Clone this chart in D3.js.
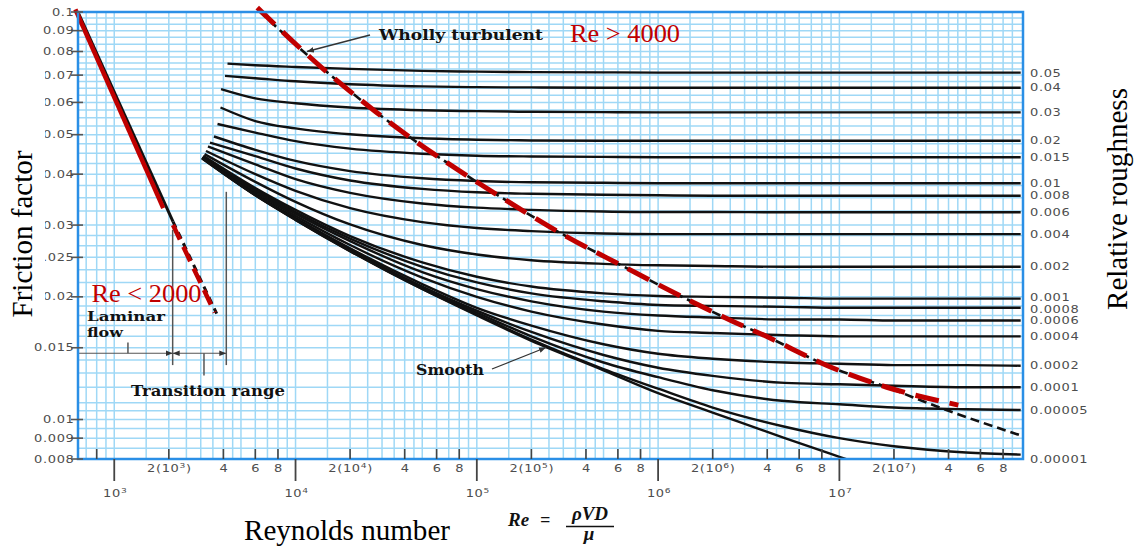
<!DOCTYPE html>
<html><head><meta charset="utf-8">
<script src="https://cdn.jsdelivr.net/npm/d3@7"></script>
<style>
html,body{margin:0;padding:0;background:#fff;}
svg{display:block;}
</style></head><body>
<svg id="chart" width="1135" height="550"></svg>
<script>
// ---------------- data ----------------
const reDomain = [631, 1.03e8];
const fDomain = [0.008, 0.1];
const gridDecades = [100, 1e3, 1e4, 1e5, 1e6, 1e7];
const gridMultipliers = [1, 1.5, 2, 2.5, 3, 3.5, 4, 4.5, 5, 6, 7, 8, 9];
const fGrid = [0.0085,0.009,0.0095,0.01,0.0105,0.011,0.012,0.013,0.014,0.015,0.016,0.017,0.018,0.019,0.02,
  0.0217,0.0233,0.025,0.0267,0.0283,0.03,0.0325,0.035,0.0375,0.04,0.0425,0.045,0.0475,0.05,0.0525,0.055,
  0.0575,0.06,0.0625,0.065,0.0675,0.07,0.0725,0.075,0.0775,0.08,0.0833,0.0867,0.09,0.0933,0.0967];
const fTicks = [0.1,0.09,0.08,0.07,0.06,0.05,0.04,0.03,0.025,0.02,0.015,0.01,0.009,0.008];
const fTickLabels = ["0.1","0.09","0.08","0.07","0.06","0.05","0.04","0.03","0.025","0.02","0.015","0.01","0.009","0.008"];
const reMajorTicks = [1e3, 1e4, 1e5, 1e6, 1e7];
const reMajorExp = ["3","4","5","6","7"];
const reMinorTicks = [800, 2e3,4e3,6e3,8e3, 2e4,4e4,6e4,8e4, 2e5,4e5,6e5,8e5, 2e6,4e6,6e6,8e6, 2e7,4e7,6e7,8e7];
const reMinorLabels = ["", "2|3","4","6","8", "2|4","4","6","8", "2|5","4","6","8", "2|6","4","6","8", "2|7","4","6","8"];

const roughness = ["0.05","0.04","0.03","0.02","0.015","0.01","0.008","0.006","0.004","0.002","0.001","0.0008","0.0006","0.0004","0.0002","0.0001","0.00005","0.00001"];
const roughLabelF = [0.0707,0.0652,0.0567,0.0483,0.0440,0.0380,0.0354,0.03225,0.0285,0.0237,0.01995,0.01865,0.0175,0.0160,0.01355,0.0120,0.01055,0.0080];
const curveStartRe = [4214,4083,3882,3855,3711,3548,3373,3289,3206,3148,3100,3090,3080,3070,3060,3055,3050,3050];
const curveStartF  = [0.0747,0.0697,0.0647,0.0583,0.0531,0.0495,0.0478,0.0468,0.0456,0.0448,0.0444,0.0442,0.0441,0.0440,0.0439,0.0439,0.0438,0.0438];
const reGrid = [6e3,1e4,2e4,5e4,1e5,2e5,5e5,1e6,2e6,5e6,1e7,2e7,5e7,1e8];
const curveF = [
  [0.0740,0.0733,0.0725,0.0717,0.0714,0.0712,0.0711,0.0710,0.0710,0.0710,0.0710,0.0710,0.0710,0.0710],
  [0.0688,0.0676,0.0665,0.0657,0.0654,0.0653,0.0652,0.0652,0.0652,0.0652,0.0652,0.0652,0.0652,0.0652],
  [0.0614,0.0597,0.0583,0.0574,0.0571,0.0569,0.0568,0.0567,0.0567,0.0567,0.0567,0.0567,0.0567,0.0567],
  [0.0540,0.0518,0.0501,0.0490,0.0486,0.0484,0.0483,0.0483,0.0483,0.0483,0.0483,0.0483,0.0483,0.0483],
  [0.0506,0.0482,0.0462,0.0449,0.0444,0.0442,0.0441,0.0440,0.0440,0.0440,0.0440,0.0440,0.0440,0.0440],
  [0.0459,0.0431,0.0407,0.0391,0.0385,0.0382,0.0381,0.0380,0.0380,0.0380,0.0380,0.0380,0.0380,0.0380],
  [0.0443,0.0413,0.0386,0.0368,0.0361,0.0358,0.0356,0.0355,0.0354,0.0354,0.0354,0.0354,0.0354,0.0354],
  [0.0423,0.0389,0.0360,0.0339,0.0331,0.0327,0.0324,0.0323,0.0323,0.03225,0.03225,0.03225,0.03225,0.03225],
  [0.0400,0.0364,0.0330,0.0305,0.0295,0.0290,0.0286,0.0285,0.0285,0.0285,0.0285,0.0285,0.0285,0.0285],
  [0.0383,0.0342,0.0301,0.0268,0.0254,0.0246,0.0241,0.0239,0.0238,0.0237,0.0237,0.0237,0.0237,0.0237],
  [0.0370,0.0327,0.0282,0.0243,0.0224,0.0212,0.0204,0.0201,0.0200,0.0199,0.0198,0.0198,0.0198,0.0198],
  [0.0367,0.0323,0.0278,0.0237,0.0217,0.0204,0.0195,0.0191,0.0190,0.0189,0.0188,0.0188,0.0188,0.0188],
  [0.0364,0.0320,0.0274,0.0230,0.0209,0.0195,0.0184,0.0180,0.0178,0.0176,0.0176,0.0175,0.0175,0.0175],
  [0.0361,0.0316,0.0268,0.0223,0.0200,0.0184,0.0171,0.0165,0.0163,0.0161,0.0160,0.0160,0.0160,0.0160],
  [0.0357,0.0312,0.0263,0.0215,0.0188,0.0170,0.0153,0.0145,0.0141,0.0138,0.0137,0.0136,0.0136,0.01355],
  [0.0356,0.0311,0.0261,0.0212,0.0185,0.0164,0.0144,0.0134,0.0128,0.0123,0.0122,0.0121,0.0120,0.0120],
  [0.0356,0.0310,0.0260,0.0211,0.0183,0.0160,0.0138,0.0127,0.0118,0.0111,0.0109,0.0107,0.0106,0.01055],
  [0.0355,0.0309,0.0259,0.0209,0.0181,0.0157,0.0133,0.0119,0.0107,0.0096,0.0090,0.0086,0.0083,0.0082]
];
const smoothRe = [3050,6e3,1e4,2e4,5e4,1e5,2e5,5e5,1e6,2e6,5e6,1e7,2e7];
const smoothF  = [0.0437,0.0355,0.0309,0.0259,0.0209,0.0180,0.0156,0.0132,0.0116,0.0104,0.0090,0.0081,0.0073];

const laminarRe = [631, 2109];
const laminarF  = [0.1, 0.0306];
const laminarDashRe = [2109, 3673];
const laminarDashF  = [0.0306, 0.0182];
const redLamRe = [622, 1900];
const redLamF  = [0.1015, 0.0330];
const redLamDashRe = [2150, 3650];
const redLamDashF  = [0.0300, 0.0183];

const turbRe = [6300,15010,28000,45500,102600,185600,296200,649600,1.4214e6,2.52e6,3.953e6,8.59e6,1.826e7,3.895e7,1.03e8];
const turbF  = [0.1005,0.0710,0.0567,0.0483,0.0380,0.03225,0.0285,0.0237,0.0198,0.0175,0.0160,0.01355,0.0120,0.01055,0.0091];
const redTurbRe = [6150,15010,28000,45500,102600,185600,296200,649600,1.4214e6,2.52e6,3.953e6,8.59e6,1.826e7,4.53e7];
const redTurbF  = [0.1025,0.0710,0.0567,0.0483,0.0380,0.03225,0.0285,0.0237,0.0198,0.0175,0.0160,0.01355,0.0120,0.01085];

// transition range annotation (Re, f)
const transRe = [2100, 4150];
const transTop = [0.0292, 0.0362];
const transBottomF = 0.0136;
const arrowF = 0.01454;
const smallTickRe = [1190, 3126];
const smallTickF = [[0.01546, 0.01454],[0.01454, 0.01282]];

// ---------------- drawing ----------------
const plot = {l:78, r:1023, t:12, b:459};
const x = d3.scaleLog().domain(reDomain).range([plot.l, plot.r]);
const y = d3.scaleLog().domain(fDomain).range([plot.b, plot.t]);
const svg = d3.select("#chart");
const GRID = "#9fd8f6", FRAME = "#2a8fe6", RED = "#c00000", TXT = "#4d4d4d";

const defs = svg.append("defs");
defs.append("clipPath").attr("id","clip").append("rect")
  .attr("x",plot.l).attr("y",plot.t).attr("width",plot.r-plot.l).attr("height",plot.b-plot.t);
defs.append("marker").attr("id","arr").attr("viewBox","0 0 10 10").attr("refX",10).attr("refY",5)
  .attr("markerWidth",7).attr("markerHeight",7).attr("markerUnits","userSpaceOnUse")
  .attr("orient","auto-start-reverse")
  .append("path").attr("d","M0,1 L10,5 L0,9 z").attr("fill","#333");

// grid
const vgrid = [];
gridDecades.forEach(d => gridMultipliers.forEach(m => { const v = d*m; if (v > reDomain[0] && v < reDomain[1]) vgrid.push(v); }));
const g = svg.append("g");
g.selectAll(".vg").data(vgrid).join("line").attr("class","vg")
  .attr("x1",d=>x(d)).attr("x2",d=>x(d)).attr("y1",plot.t).attr("y2",plot.b)
  .attr("stroke",GRID).attr("stroke-width",1.5);
g.selectAll(".hg").data(fGrid).join("line").attr("class","hg")
  .attr("x1",plot.l).attr("x2",plot.r).attr("y1",d=>y(d)).attr("y2",d=>y(d))
  .attr("stroke",GRID).attr("stroke-width",1.5);

// curves
const line = d3.line().x(d=>x(d[0])).y(d=>y(d[1])).curve(d3.curveMonotoneX);
const cg = svg.append("g").attr("clip-path","url(#clip)");
curveF.forEach((arr,k) => {
  const pts = [[curveStartRe[k], curveStartF[k]], ...reGrid.map((r,i)=>[r, arr[i]])];
  cg.append("path").attr("d", line(pts)).attr("fill","none").attr("stroke","#111").attr("stroke-width",2.4);
});
cg.append("path").attr("d", line(smoothRe.map((r,i)=>[r, smoothF[i]])))
  .attr("fill","none").attr("stroke","#111").attr("stroke-width",2.4);

// laminar
const lin = d3.line().x(d=>x(d[0])).y(d=>y(d[1]));
svg.append("path").attr("d", lin(laminarRe.map((r,i)=>[r,laminarF[i]])))
  .attr("stroke","#111").attr("stroke-width",3).attr("fill","none");
svg.append("path").attr("d", lin(laminarDashRe.map((r,i)=>[r,laminarDashF[i]])))
  .attr("stroke","#111").attr("stroke-width",3).attr("fill","none").attr("stroke-dasharray","7,5");

// wholly turbulent dashed
const tl = d3.line().x(d=>x(d[0])).y(d=>y(d[1])).curve(d3.curveMonotoneX);
svg.append("path").attr("d", tl(turbRe.map((r,i)=>[r,turbF[i]])))
  .attr("stroke","#111").attr("stroke-width",2.6).attr("fill","none").attr("stroke-dasharray","9,5");

// red overlays
svg.append("path").attr("d", tl(redTurbRe.map((r,i)=>[r,redTurbF[i]])))
  .attr("stroke",RED).attr("stroke-width",5).attr("fill","none").attr("stroke-dasharray","24,11");
svg.append("path").attr("d", lin(redLamRe.map((r,i)=>[r,redLamF[i]]))).attr("transform","translate(-1.5,0)")
  .attr("stroke",RED).attr("stroke-width",4.5).attr("fill","none");
svg.append("path").attr("d", lin(redLamDashRe.map((r,i)=>[r,redLamDashF[i]]))).attr("transform","translate(-1.5,0)")
  .attr("stroke",RED).attr("stroke-width",4.5).attr("fill","none").attr("stroke-dasharray","16,8");

// transition annotations
const an = svg.append("g").attr("stroke","#555").attr("stroke-width",1.5);
transRe.forEach((r,i)=>{
  an.append("line").attr("x1",x(r)).attr("x2",x(r)).attr("y1",y(transTop[i])).attr("y2",y(transBottomF));
});
smallTickRe.forEach((r,i)=>{
  an.append("line").attr("x1",x(r)).attr("x2",x(r)).attr("y1",y(smallTickF[i][0])).attr("y2",y(smallTickF[i][1]));
});
an.append("line").attr("x1",plot.l).attr("x2",x(transRe[0])).attr("y1",y(arrowF)).attr("y2",y(arrowF))
  .attr("stroke-width",1.2).attr("marker-end","url(#arr)");
an.append("line").attr("x1",x(transRe[0])).attr("x2",x(transRe[1])).attr("y1",y(arrowF)).attr("y2",y(arrowF))
  .attr("stroke-width",1.2).attr("marker-start","url(#arr)").attr("marker-end","url(#arr)");

// pointer arrows
svg.append("line").attr("x1",370).attr("y1",35).attr("x2",307).attr("y2",51.5)
  .attr("stroke","#333").attr("stroke-width",1.3).attr("marker-end","url(#arr)");
svg.append("line").attr("x1",492).attr("y1",369).attr("x2",546).attr("y2",347.5)
  .attr("stroke","#333").attr("stroke-width",1.3).attr("marker-end","url(#arr)");

// frame
svg.append("rect").attr("x",plot.l).attr("y",plot.t).attr("width",plot.r-plot.l).attr("height",plot.b-plot.t)
  .attr("fill","none").attr("stroke",FRAME).attr("stroke-width",2.5);

// wide tick-label helper (horizontally stretched sans, like the scan)
function wideText(parent, xx, yy, anchor){
  return parent.append("g").attr("transform",`translate(${xx},${yy}) scale(1.3,1)`)
    .append("text").attr("text-anchor",anchor).attr("font-family","DejaVu Sans, sans-serif")
    .attr("font-size","10px").attr("letter-spacing","0.5px").attr("fill",TXT);
}

// y ticks & labels
svg.append("g").selectAll("line").data(fTicks).join("line")
  .attr("x1",71).attr("x2",83).attr("y1",d=>y(d)).attr("y2",d=>y(d)).attr("stroke","#555").attr("stroke-width",1.6);
const yl = svg.append("g");
fTicks.forEach((f,i)=> wideText(yl, 74.5, y(f)+3.6, "end").text(fTickLabels[i]));

// x ticks
svg.append("g").selectAll("line").data(reMinorTicks).join("line")
  .attr("x1",d=>x(d)).attr("x2",d=>x(d)).attr("y1",plot.b-10).attr("y2",plot.b).attr("stroke","#444").attr("stroke-width",1.6);
svg.append("g").selectAll("line").data(reMajorTicks).join("line")
  .attr("x1",d=>x(d)).attr("x2",d=>x(d)).attr("y1",plot.b).attr("y2",plot.b+22).attr("stroke","#444").attr("stroke-width",1.8);
const xl = svg.append("g");
reMinorTicks.forEach((r,i)=>{
  const lab = reMinorLabels[i]; if(!lab) return;
  const t = wideText(xl, x(r)+0.5, 471.5, "middle");
  if(lab.includes("|")){
    const [m,e] = lab.split("|");
    t.append("tspan").text(m+"(10");
    t.append("tspan").attr("dy",-4).attr("font-size","7px").text(e);
    t.append("tspan").attr("dy",4).text(")");
  } else t.text(lab);
});
reMajorTicks.forEach((r,i)=>{
  const t = wideText(xl, x(r)+1, 496.5, "middle");
  t.append("tspan").text("10");
  t.append("tspan").attr("dy",-4).attr("font-size","7px").text(reMajorExp[i]);
});

// right roughness labels
const rl = svg.append("g");
roughness.forEach((d,i)=> wideText(rl, 1030, y(roughLabelF[i])+3.6, "start").text(d));

// white box behind y title
svg.append("rect").attr("x",0).attr("y",62).attr("width",45).attr("height",243).attr("fill","#fff");

// titles
const serif = "Liberation Serif, Times New Roman, serif";
svg.append("text").attr("transform","translate(32,234) rotate(-90)").attr("text-anchor","middle")
  .attr("font-family",serif).attr("font-size","29px").attr("fill","#000")
  .attr("textLength",167).attr("lengthAdjust","spacingAndGlyphs").text("Friction factor");
svg.append("text").attr("transform","translate(1127,199) rotate(-90)").attr("text-anchor","middle")
  .attr("font-family",serif).attr("font-size","29px").attr("fill","#000")
  .attr("textLength",222).attr("lengthAdjust","spacingAndGlyphs").text("Relative roughness");
svg.append("text").attr("x",244).attr("y",540)
  .attr("font-family",serif).attr("font-size","29px").attr("fill","#000")
  .attr("textLength",206).attr("lengthAdjust","spacingAndGlyphs").text("Reynolds number");

// formula
const fm = {"font-family":serif,"font-weight":"bold","font-style":"italic","fill":"#111"};
function ft(txt, xx, yy, size, anchor){
  const t = svg.append("text").attr("x",xx).attr("y",yy).attr("font-size",size+"px").attr("text-anchor",anchor||"start").text(txt);
  Object.entries(fm).forEach(([k,v])=>t.attr(k,v)); return t;
}
ft("Re", 508, 525.5, 19);
ft("=", 540, 525.5, 18);
ft("ρVD", 590, 520, 19, "middle");
svg.append("line").attr("x1",566).attr("x2",614).attr("y1",526.5).attr("y2",526.5).attr("stroke","#111").attr("stroke-width",1.4);
ft("μ", 589, 539.5, 19, "middle");

// annotations text
const bserif = "DejaVu Serif, serif";
function ann(txt, xx, yy, len, size){
  return svg.append("text").attr("x",xx).attr("y",yy).attr("font-family",bserif).attr("font-weight","bold")
    .attr("font-size",size+"px").attr("fill","#111").attr("textLength",len).attr("lengthAdjust","spacingAndGlyphs").text(txt);
}
ann("Wholly  turbulent", 379, 39.5, 164, 14);
ann("Smooth", 416, 375, 68, 14.5);
ann("Laminar", 87, 320.5, 78, 12);
ann("flow", 87, 336.5, 36, 12);
ann("Transition range", 131, 396, 154, 14);

// red labels
svg.append("text").attr("x",91.5).attr("y",301.5).attr("font-family",serif).attr("font-size","26px").attr("fill",RED)
  .attr("textLength",110).attr("lengthAdjust","spacingAndGlyphs").text("Re < 2000");
svg.append("text").attr("x",570).attr("y",41.5).attr("font-family",serif).attr("font-size","26px").attr("fill",RED)
  .attr("textLength",110).attr("lengthAdjust","spacingAndGlyphs").text("Re > 4000");
</script>
</body></html>
